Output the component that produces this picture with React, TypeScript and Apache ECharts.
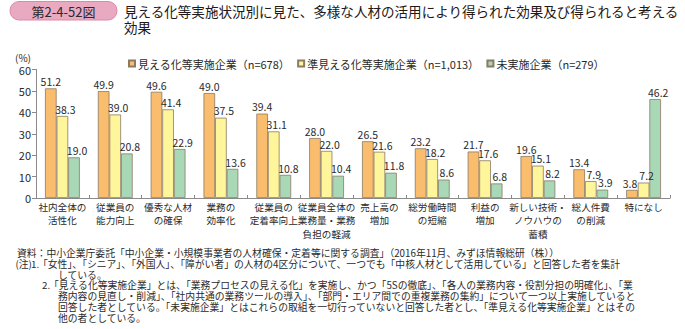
import React, { useEffect, useRef } from "react";
import * as echarts from "echarts";

const categories = [
  "社内全体の\n活性化",
  "従業員の\n能力向上",
  "優秀な人材\nの確保",
  "業務の\n効率化",
  "従業員の\n定着率向上",
  "従業員全体の\n業務量・業務\n負担の軽減",
  "売上高の\n増加",
  "総労働時間\nの短縮",
  "利益の\n増加",
  "新しい技術・\nノウハウの\n蓄積",
  "総人件費\nの削減",
  "特になし",
];

const seriesNames = [
  "見える化等実施企業（n=678）",
  "準見える化等実施企業（n=1,013）",
  "未実施企業（n=279）",
];

const visibleValues = [51.2, 49.9, 49.6, 49.0, 39.4, 28.0, 26.5, 23.2, 21.7, 19.6, 13.4, 3.8];
const semiVisibleValues = [38.3, 39.0, 41.4, 37.5, 31.1, 22.0, 21.6, 18.2, 17.6, 15.1, 7.9, 7.2];
const notImplementedValues = [19.0, 20.8, 22.9, 13.6, 10.8, 10.4, 11.8, 8.6, 6.8, 8.2, 3.9, 46.2];

const yTicks = { min: 0, max: 60, interval: 10 };

const titleBadge = "第2-4-52図";
const titleLine1 = "見える化等実施状況別に見た、多様な人材の活用により得られた効果及び得られると考える";
const titleLine2 = "効果";

const sourceLine =
  "資料：中小企業庁委託「中小企業・小規模事業者の人材確保・定着等に関する調査」（2016年11月、みずほ情報総研（株））";
const note1Lines = [
  "「女性」、「シニア」、「外国人」、「障がい者」の人材の4区分について、一つでも「中核人材として活用している」と回答した者を集計",
  "している。",
];
const note2Lines = [
  "「見える化等実施企業」とは、「業務プロセスの見える化」を実施し、かつ「5Sの徹底」、「各人の業務内容・役割分担の明確化」、「業",
  "務内容の見直し・削減」、「社内共通の業務ツールの導入」、「部門・エリア間での重複業務の集約」について一つ以上実施していると",
  "回答した者としている。「未実施企業」とはこれらの取組を一切行っていないと回答した者とし、「準見える化等実施企業」とはその",
  "他の者としている。",
];

const colors = ["#F9BD6D", "#FFF69C", "#A9D8B6"];
const FONT = "'Noto Sans CJK JP', 'Noto Sans', sans-serif";

export default function App() {
  const ref = useRef<HTMLDivElement>(null);
  useEffect(() => {
    document.body.style.margin = "0";
    const chart = echarts.init(ref.current!, null, { renderer: "svg" });
    const dataSets = [visibleValues, semiVisibleValues, notImplementedValues];
    const NOTE_FS = 9.8;
    const NOTE_LH = 10.7;
    const textColor = "#2a2a2a";
    const noteStyle = (text: string, extra: any = {}) => ({
      text,
      fontSize: NOTE_FS,
      lineHeight: NOTE_LH,
      fontFamily: FONT,
      fill: textColor,
      verticalAlign: "middle",
      ...extra,
    });
    const graphics: any[] = [
      {
        type: "rect",
        shape: { x: 10, y: 1.5, width: 107, height: 18.5, r: 9 },
        style: { fill: "#E9A9C1", stroke: "#D98AA8", lineWidth: 1 },
      },
      {
        type: "text",
        x: 63.5,
        y: 11,
        style: { text: titleBadge, fontSize: 13, fontFamily: FONT, fill: "#2a2a2a", align: "center", verticalAlign: "middle" },
      },
      {
        type: "text",
        x: 124,
        y: 10.5,
        style: { text: titleLine1, fontSize: 13.55, fontFamily: FONT, fill: "#231815", verticalAlign: "middle" },
      },
      {
        type: "text",
        x: 124,
        y: 26.5,
        style: { text: titleLine2, fontSize: 13.55, fontFamily: FONT, fill: "#231815", verticalAlign: "middle" },
      },
      {
        type: "text",
        x: 15,
        y: 57.5,
        style: { text: "(%)", fontSize: 10, fontFamily: FONT, fill: textColor, verticalAlign: "middle" },
      },
      { type: "text", x: 17, y: 253.3, style: noteStyle(sourceLine) },
      { type: "text", x: 15.5, y: 264, style: noteStyle("(注)") },
      { type: "text", x: 31, y: 264, style: noteStyle("1.") },
      { type: "text", x: 38, y: 264, style: noteStyle(note1Lines[0]) },
      { type: "text", x: 58, y: 274.7, style: noteStyle(note1Lines[1]) },
      { type: "text", x: 42, y: 285.4, style: noteStyle("2.") },
      { type: "text", x: 49, y: 285.4, style: noteStyle(note2Lines[0]) },
      {
        type: "text",
        x: 58,
        y: 296.1 - NOTE_LH / 2,
        style: noteStyle(note2Lines.slice(1).join("\n"), { verticalAlign: "top" }),
      },
    ];

    const labelOffsets = [0, 3, 3];

    chart.setOption({
      animation: false,
      backgroundColor: "#ffffff",
      textStyle: { fontFamily: FONT },
      legend: {
        left: 123,
        top: 53,
        itemWidth: 6,
        itemHeight: 6,
        itemGap: 7,
        icon: "rect",
        textStyle: { fontSize: 11, color: textColor, fontFamily: FONT, padding: [0, 0, 0, -2] },
        data: seriesNames,
      },
      grid: { left: 36, right: 15, top: 69.5, bottom: 131, containLabel: false },
      xAxis: {
        type: "category",
        data: categories,
        axisLine: { lineStyle: { color: "#8a8a8a", width: 1 } },
        axisTick: { show: true, inside: true, length: 3, lineStyle: { color: "#8a8a8a" } },
        axisLabel: {
          interval: 0,
          fontSize: 9.6,
          lineHeight: 13.5,
          margin: 2,
          color: textColor,
          fontFamily: FONT,
        },
      },
      yAxis: {
        type: "value",
        min: yTicks.min,
        max: yTicks.max,
        interval: yTicks.interval,
        axisLine: { show: true, lineStyle: { color: "#8a8a8a", width: 1 } },
        axisTick: { show: true, length: 4, lineStyle: { color: "#8a8a8a" } },
        axisLabel: { fontSize: 11, color: textColor, margin: 5, fontFamily: FONT },
        splitLine: { show: false },
      },
      series: seriesNames.map((name, i) => ({
        name,
        type: "bar",
        data: dataSets[i].map((v, j) =>
          i === 0 && j === dataSets[i].length - 1
            ? { value: v, label: { offset: [-2, 0] } }
            : v
        ),
        barWidth: 11.6,
        barGap: "0%",
        itemStyle: { color: colors[i], borderColor: "#8a7a66", borderWidth: 0.8 },
        label: {
          show: true,
          position: "top",
          distance: 1.5,
          offset: [labelOffsets[i], 0],
          fontSize: 10.5,
          color: textColor,
          fontFamily: FONT,
          formatter: (p: any) => Number(p.value).toFixed(1),
        },
      })),
      graphic: graphics,
    });
    return () => chart.dispose();
  }, []);
  return (
    <div
      ref={ref}
      style={{ width: 685, height: 329, position: "fixed", left: 0, top: 0, background: "#fff" }}
    />
  );
}
